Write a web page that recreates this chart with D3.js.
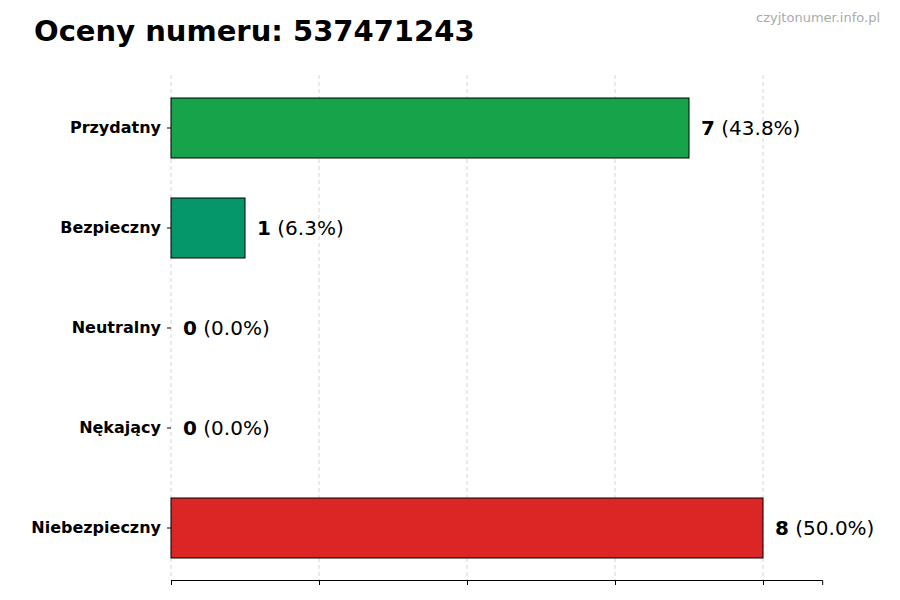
<!DOCTYPE html><html><head><meta charset="utf-8"><script src="https://cdn.jsdelivr.net/npm/d3@7"></script>
<style>body{margin:0;background:#fff}text{font-family:"DejaVu Sans",sans-serif}</style></head><body>
<svg id="c" width="900" height="600"></svg>
<script>
const categories=["Przydatny","Bezpieczny","Neutralny","Nękający","Niebezpieczny"];
const values=[7,1,0,0,8];
const colors=["#16a34a","#059669","#9ca3af","#6b7280","#dc2626"];
const xTicks=[0,2,4,6,8];
const total=d3.sum(values);
const svg=d3.select("#c");
const x=d3.scaleLinear().domain([0,8.8]).range([171,822.2]);
const y=d3.scaleBand().domain(categories).range([78,578]).paddingInner(0.4).paddingOuter(0.2);
svg.append("g").selectAll("line").data(xTicks).join("line")
 .attr("x1",d=>x(d)).attr("x2",d=>x(d)).attr("y1",75).attr("y2",580)
 .attr("stroke","#ccc").attr("stroke-dasharray","4,3").attr("stroke-width",0.8);
const xa=svg.append("g").attr("transform","translate(0,580)").call(d3.axisBottom(x).tickValues(xTicks).tickFormat("").tickSize(5));
xa.select(".domain").attr("stroke","#000");
const ya=svg.append("g").attr("transform","translate(171,0)").call(d3.axisLeft(y).tickSize(4).tickPadding(6));
ya.select(".domain").remove();
ya.selectAll("text").attr("font-size",16).attr("font-weight","bold").attr("fill","#000");
svg.append("g").selectAll("rect").data(values).join("rect")
 .attr("x",x(0)).attr("y",(d,i)=>y(categories[i])).attr("height",y.bandwidth())
 .attr("width",d=>x(d)-x(0)).attr("fill",(d,i)=>colors[i]).attr("stroke","#000").attr("stroke-width",1);
const lab=svg.append("g").selectAll("text").data(values).join("text")
 .attr("x",d=>x(d)+12).attr("y",(d,i)=>y(categories[i])+y.bandwidth()/2).attr("dy","0.35em").attr("font-size",20);
lab.append("tspan").attr("font-weight","bold").text(d=>d);
lab.append("tspan").text(d=>" ("+(d/total*100).toFixed(1)+"%)");
svg.append("text").attr("x",34).attr("y",41).attr("font-size",29).attr("font-weight","bold").text("Oceny numeru: 537471243");
svg.append("text").attr("x",880).attr("y",22).attr("text-anchor","end").attr("font-size",13).attr("fill","#aaa").text("czyjtonumer.info.pl");
</script></body></html>
